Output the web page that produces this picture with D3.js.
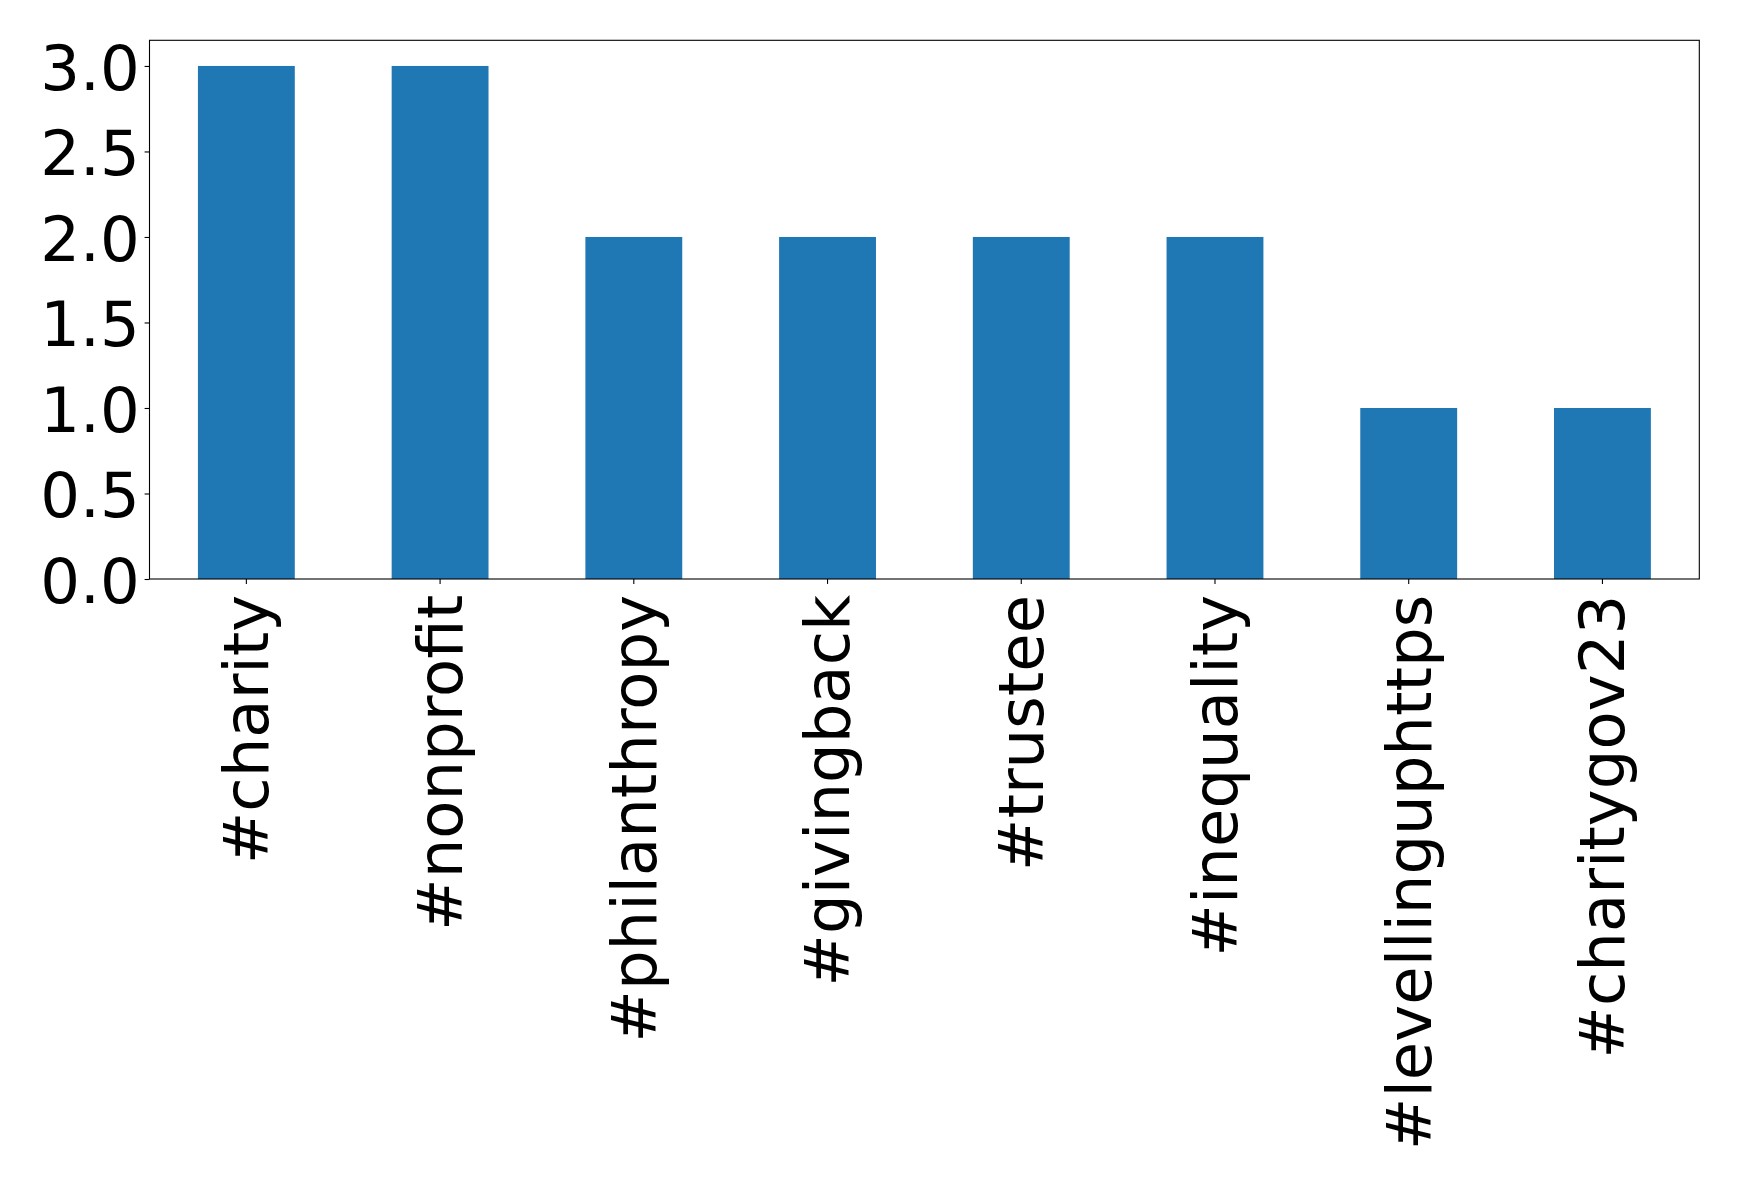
<!DOCTYPE html>
<html>
<head>
<meta charset="utf-8">
<script src="https://cdn.jsdelivr.net/npm/d3@7"></script>
<style>
  html, body { margin: 0; padding: 0; background: #fff; }
  svg { display: block; }
  text { font-family: "DejaVu Sans", sans-serif; }
</style>
</head>
<body>
<script>
const categories = ["#charity", "#nonprofit", "#philanthropy", "#givingback", "#trustee", "#inequality", "#levellinguphttps", "#charitygov23"];
const counts = [3, 3, 2, 2, 2, 2, 1, 1];
const yTicks = [0, 0.5, 1.0, 1.5, 2.0, 2.5, 3.0];

const W = 1739, H = 1183;
const plotLeft = 149.5, plotRight = 1699.3, plotTop = 40.3, plotBottom = 579;
const fontSize = 62.5;
const tickLen = 4.9, tickPad = 4.9;

const svg = d3.select("body").append("svg").attr("width", W).attr("height", H);

const x = d3.scaleBand().domain(categories).range([plotLeft, plotRight]).paddingInner(0.5).paddingOuter(0.25);
const y = d3.scaleLinear().domain([0, 3.15]).range([plotBottom, plotTop]);

svg.append("g").selectAll("rect").data(categories).join("rect")
  .attr("x", d => x(d))
  .attr("width", x.bandwidth())
  .attr("y", (d, i) => y(counts[i]))
  .attr("height", (d, i) => y(0) - y(counts[i]))
  .attr("fill", "#1f77b4");

// frame
svg.append("rect").attr("x", plotLeft).attr("y", plotTop).attr("width", plotRight - plotLeft).attr("height", plotBottom - plotTop)
  .attr("fill", "none").attr("stroke", "#000").attr("stroke-width", 1.1);

const yAxis = svg.append("g").attr("transform", `translate(${plotLeft},0)`)
  .call(d3.axisLeft(y).tickValues(yTicks).tickFormat(d3.format(".1f")).tickSize(tickLen).tickPadding(tickPad));
yAxis.select(".domain").remove();
yAxis.selectAll(".tick line").attr("stroke", "#000").attr("stroke-width", 1.1);
yAxis.selectAll(".tick text").attr("font-size", fontSize).attr("font-family", "DejaVu Sans").attr("fill", "#000").attr("dy", "0.37em");

const xAxis = svg.append("g").attr("transform", `translate(0,${plotBottom})`)
  .call(d3.axisBottom(x).tickSize(tickLen).tickPadding(tickPad));
xAxis.select(".domain").remove();
xAxis.selectAll(".tick line").attr("stroke", "#000").attr("stroke-width", 1.1);
xAxis.selectAll(".tick text")
  .attr("font-size", fontSize).attr("font-family", "DejaVu Sans").attr("fill", "#000")
  .attr("transform", "rotate(-90)")
  .attr("text-anchor", "end")
  .attr("x", -(tickLen + tickPad + 6))
  .attr("y", 0)
  .attr("dy", "0.35em");
</script>
</body>
</html>
